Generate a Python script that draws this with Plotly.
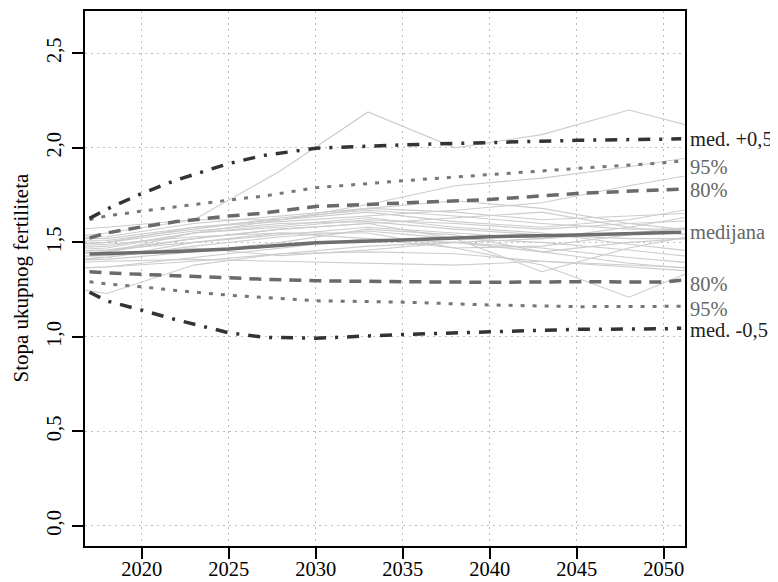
import plotly.graph_objects as go

# ---- data ----
years_q = [2017, 2018, 2020, 2022, 2025, 2027, 2030, 2035, 2040, 2045, 2050, 2051]
median = [1.438, 1.440, 1.445, 1.452, 1.465, 1.477, 1.498, 1.512, 1.530, 1.539, 1.551, 1.554]
upper_05 = [1.627, 1.676, 1.759, 1.830, 1.917, 1.960, 1.998, 2.016, 2.028, 2.040, 2.046, 2.048]
lower_05 = [1.236, 1.190, 1.142, 1.090, 1.022, 0.998, 0.993, 1.013, 1.027, 1.040, 1.043, 1.046]
upper_80 = [1.523, 1.550, 1.582, 1.610, 1.639, 1.655, 1.690, 1.709, 1.727, 1.759, 1.780, 1.782]
lower_80 = [1.345, 1.338, 1.331, 1.322, 1.313, 1.305, 1.297, 1.292, 1.289, 1.292, 1.290, 1.300]
upper_95 = [1.621, 1.640, 1.665, 1.690, 1.724, 1.745, 1.789, 1.826, 1.859, 1.891, 1.921, 1.931]
lower_95 = [1.292, 1.280, 1.265, 1.245, 1.221, 1.208, 1.191, 1.184, 1.169, 1.160, 1.163, 1.162]

years_t = [2013, 2018, 2023, 2028, 2033, 2038, 2043, 2048, 2053]
trajectories = [
    [1.50, 1.55, 1.62, 1.88, 2.19, 2.00, 2.07, 2.20, 2.08],
    [1.42, 1.45, 1.55, 1.62, 1.70, 1.80, 1.84, 1.90, 1.97],
    [1.47, 1.50, 1.58, 1.61, 1.64, 1.67, 1.71, 1.80, 1.88],
    [1.40, 1.42, 1.50, 1.55, 1.55, 1.47, 1.38, 1.21, 1.40],
    [1.44, 1.46, 1.52, 1.57, 1.60, 1.52, 1.345, 1.47, 1.56],
    [1.30, 1.23, 1.38, 1.44, 1.48, 1.50, 1.45, 1.50, 1.53],
    [1.38, 1.40, 1.41, 1.40, 1.39, 1.38, 1.40, 1.38, 1.36],
    [1.52, 1.53, 1.60, 1.64, 1.68, 1.66, 1.62, 1.64, 1.66],
    [1.55, 1.58, 1.62, 1.62, 1.66, 1.61, 1.58, 1.62, 1.70],
    [1.45, 1.47, 1.55, 1.59, 1.63, 1.58, 1.55, 1.49, 1.44],
    [1.42, 1.43, 1.47, 1.43, 1.46, 1.50, 1.52, 1.55, 1.58],
    [1.40, 1.41, 1.45, 1.50, 1.57, 1.54, 1.45, 1.39, 1.35],
    [1.43, 1.45, 1.52, 1.57, 1.60, 1.63, 1.66, 1.58, 1.52],
    [1.48, 1.50, 1.56, 1.60, 1.61, 1.57, 1.54, 1.52, 1.52],
    [1.46, 1.48, 1.55, 1.58, 1.62, 1.60, 1.57, 1.60, 1.62],
    [1.36, 1.37, 1.42, 1.47, 1.52, 1.50, 1.47, 1.42, 1.38],
    [1.44, 1.46, 1.50, 1.54, 1.58, 1.55, 1.52, 1.58, 1.66],
    [1.52, 1.52, 1.58, 1.62, 1.68, 1.72, 1.68, 1.60, 1.55],
    [1.39, 1.42, 1.48, 1.53, 1.56, 1.52, 1.50, 1.46, 1.41],
    [1.47, 1.49, 1.53, 1.55, 1.52, 1.47, 1.48, 1.54, 1.60],
    [1.35, 1.37, 1.40, 1.44, 1.45, 1.44, 1.40, 1.37, 1.34],
    [1.50, 1.51, 1.57, 1.63, 1.67, 1.64, 1.60, 1.57, 1.57],
]

x_ticks = [2020, 2025, 2030, 2035, 2040, 2045, 2050]
y_ticks = [0.0, 0.5, 1.0, 1.5, 2.0, 2.5]
y_tick_labels = ["0,0", "0,5", "1,0", "1,5", "2,0", "2,5"]

labels = ["med. +0,5", "95%", "80%", "medijana", "80%", "95%", "med. -0,5"]
label_y = [2.045, 1.898, 1.776, 1.554, 1.278, 1.150, 1.038]
label_colors = ["#222222", "#666666", "#666666", "#666666", "#666666", "#666666", "#222222"]

FONT = "Liberation Serif"

# page has an 8px body margin; plot area should sit at page x 85..685, y 11..546
L, T, PW, PH = 77, 3, 600, 535
W, H = 778, 582

fig = go.Figure()

for tr in trajectories:
    fig.add_trace(go.Scatter(x=years_t, y=tr, mode="lines",
                             line=dict(color="#cccccc", width=1.1),
                             showlegend=False, hoverinfo="skip"))

def add_line(y, color, width, dash):
    fig.add_trace(go.Scatter(x=years_q, y=y, mode="lines",
                             line=dict(color=color, width=width, dash=dash),
                             showlegend=False))

add_line(lower_95, "#777777", 3, "4px,8px")
add_line(upper_95, "#777777", 3, "4px,8px")
add_line(lower_80, "#6a6a6a", 3.5, "12px,8px")
add_line(upper_80, "#6a6a6a", 3.5, "12px,8px")
add_line(lower_05, "#333333", 3.5, "12px,9px,3px,9px")
add_line(upper_05, "#333333", 3.5, "12px,9px,3px,9px")
add_line(median, "#6e6e6e", 3.5, "solid")

for txt, yy, col in zip(labels, label_y, label_colors):
    fig.add_annotation(x=1.0, xref="paper", y=yy, yref="y", text=txt,
                       showarrow=False, xanchor="left", yanchor="middle",
                       xshift=3, font=dict(family=FONT, size=20.5, color=col))

fig.add_annotation(x=(12 - L) / PW, xref="paper", y=0.5, yref="paper",
                   text="Stopa ukupnog fertiliteta",
                   showarrow=False, textangle=-90, xanchor="center", yanchor="middle",
                   font=dict(family=FONT, size=21, color="#000"))

fig.update_layout(
    width=W, height=H,
    margin=dict(l=L, r=W - L - PW, t=T, b=H - T - PH, autoexpand=False),
    paper_bgcolor="white", plot_bgcolor="white",
    font=dict(family=FONT, size=20, color="#000000"),
    showlegend=False,
)

fig.update_xaxes(range=[2016.74, 2051.22], tickvals=x_ticks,
                 ticktext=[str(v) for v in x_ticks], automargin=False,
                 ticklabelstandoff=-8,
                 showgrid=True, gridcolor="#bdbdbd", gridwidth=1.4, griddash="2px,4px",
                 zeroline=False, showline=True, linecolor="black", linewidth=2,
                 mirror=True, ticks="outside", ticklen=11, tickwidth=2,
                 tickcolor="black", tickfont=dict(family=FONT, size=20.5, color="#000"))
fig.update_yaxes(range=[-0.106, 2.724], tickvals=y_ticks, ticktext=y_tick_labels,
                 tickangle=-90, automargin=False, ticklabelstandoff=3,
                 showgrid=True, gridcolor="#bdbdbd", gridwidth=1.4, griddash="2px,4px",
                 zeroline=False, showline=True, linecolor="black", linewidth=2,
                 mirror=True, ticks="outside", ticklen=11, tickwidth=2,
                 tickcolor="black", tickfont=dict(family=FONT, size=20.5, color="#000"))

fig.write_html("out.html")
